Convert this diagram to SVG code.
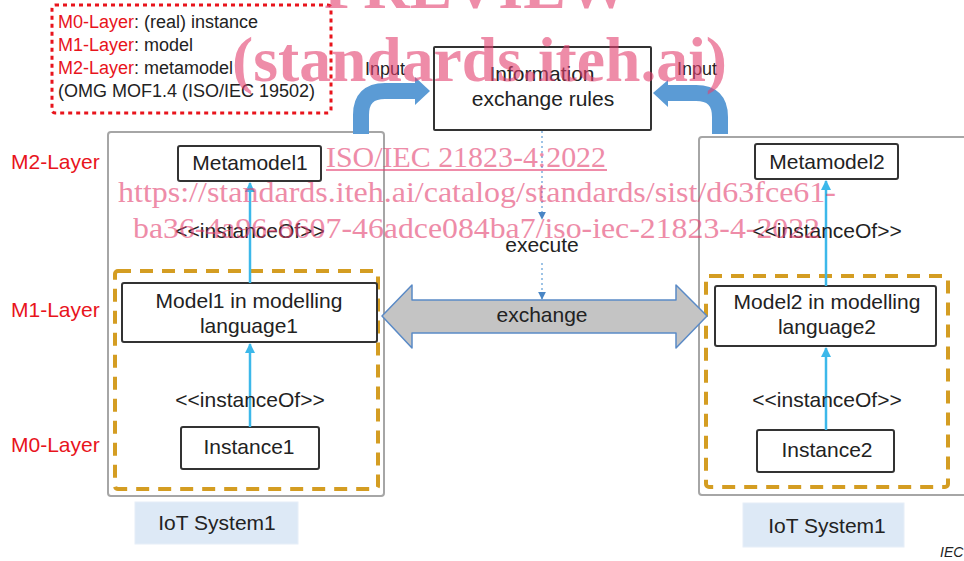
<svg xmlns="http://www.w3.org/2000/svg" width="964" height="561" viewBox="0 0 964 561">
  <style>
    text { font-family: "Liberation Sans", Arial, sans-serif; fill: #222; }
    .lbl { font-size: 21px; text-anchor: middle; }
    .inst { font-size: 21px; text-anchor: middle; }
    .legend { font-size: 18px; }
    .red { fill: #e8141c; }
    .layer { font-size: 21px; fill: #e8141c; }
    .node { fill: #fff; stroke: #333; stroke-width: 2; }
    .system { fill: #fff; stroke: #a6a6a6; stroke-width: 2; }
    .layerframe { fill: none; stroke: #d49d22; stroke-width: 4; stroke-dasharray: 13 9; }
    .tag { fill: #dde9f6; stroke: #e6eef8; stroke-width: 1; }
    .inst-of { stroke: #3cb8ea; stroke-width: 2.5; fill: none; }
    .exec { stroke: #9dc3e6; stroke-width: 2; stroke-dasharray: 2 3; fill: none; }
    .input { stroke: #5b9bd5; stroke-width: 16; fill: none; }
    .wm { font-family: "Liberation Serif", "Times New Roman", serif; fill: #e4406f; opacity: 0.6; }
  </style>
  <defs>
    <marker id="tri-cyan" viewBox="0 0 10 10" refX="9" refY="5" markerWidth="4" markerHeight="4" orient="auto">
      <path d="M0,0 L10,5 L0,10 z" fill="#3cb8ea"/>
    </marker>
    <marker id="tri-blue" viewBox="0 0 10 10" refX="9" refY="5" markerWidth="4" markerHeight="4" orient="auto">
      <path d="M0,0 L10,5 L0,10 z" fill="#4a86c5"/>
    </marker>
  </defs>

  <rect width="964" height="561" fill="#fff"/>

  <!-- legend -->
  <g id="legend">
    <rect x="52" y="5" width="279" height="108" rx="3" fill="none" stroke="#e8141c" stroke-width="3" stroke-dasharray="4 4"/>
    <text class="legend" x="58" y="28"><tspan class="red">M0-Layer</tspan>: (real) instance</text>
    <text class="legend" x="58" y="51"><tspan class="red">M1-Layer</tspan>: model</text>
    <text class="legend" x="58" y="74"><tspan class="red">M2-Layer</tspan>: metamodel</text>
    <text class="legend" x="58" y="97">(OMG MOF1.4 (ISO/IEC 19502)</text>
  </g>

  <!-- layer labels -->
  <g id="layer-labels">
    <text class="layer" x="11" y="169">M2-Layer</text>
    <text class="layer" x="11" y="317">M1-Layer</text>
    <text class="layer" x="11" y="452">M0-Layer</text>
  </g>

  <!-- IoT system 1 (left) -->
  <g id="system-left">
    <rect class="system" x="108" y="132" width="276" height="364" rx="3"/>
    <rect class="layerframe" x="115" y="271" width="263" height="218" rx="3"/>
  </g>
  <g id="metamodel1">
    <rect class="node" x="178" y="146" width="143" height="35" rx="2"/>
    <text class="lbl" x="250" y="170">Metamodel1</text>
  </g>
  <g id="model1">
    <rect class="node" x="122" y="283" width="255" height="59" rx="2"/>
    <text class="lbl" x="249" y="308">Model1 in modelling</text>
    <text class="lbl" x="249" y="333">language1</text>
  </g>
  <g id="instance1">
    <rect class="node" x="181" y="427" width="138" height="42" rx="2"/>
    <text class="lbl" x="249" y="454">Instance1</text>
  </g>
  <g id="tag-left">
    <rect class="tag" x="135" y="502" width="163" height="42"/>
    <text class="lbl" x="217" y="530">IoT System1</text>
  </g>

  <!-- IoT system (right) -->
  <g id="system-right">
    <rect class="system" x="699" y="137" width="275" height="358" rx="3"/>
    <rect class="layerframe" x="706" y="276" width="242" height="211" rx="3"/>
  </g>
  <g id="metamodel2">
    <rect class="node" x="755" y="144" width="143" height="35" rx="2"/>
    <text class="lbl" x="827" y="169">Metamodel2</text>
  </g>
  <g id="model2">
    <rect class="node" x="715" y="286" width="221" height="60" rx="2"/>
    <text class="lbl" x="827" y="309">Model2 in modelling</text>
    <text class="lbl" x="827" y="334">language2</text>
  </g>
  <g id="instance2">
    <rect class="node" x="757" y="430" width="137" height="42" rx="2"/>
    <text class="lbl" x="827" y="457">Instance2</text>
  </g>
  <g id="tag-right">
    <rect class="tag" x="743" y="503" width="161" height="44"/>
    <text class="lbl" x="827" y="533">IoT System1</text>
  </g>

  <!-- exchange rules -->
  <g id="rules">
    <rect class="node" x="434" y="47" width="217" height="83" rx="1"/>
    <text class="lbl" x="542" y="81">Information</text>
    <text class="lbl" x="543" y="106">exchange rules</text>
  </g>

  <!-- connectors -->
  <g id="connectors">
    <!-- instanceOf links -->
    <line class="inst-of" x1="250" y1="283" x2="250" y2="183" marker-end="url(#tri-cyan)"/>
    <line class="inst-of" x1="250" y1="427" x2="250" y2="344" marker-end="url(#tri-cyan)"/>
    <line class="inst-of" x1="826" y1="286" x2="826" y2="181" marker-end="url(#tri-cyan)"/>
    <line class="inst-of" x1="826" y1="430" x2="826" y2="348" marker-end="url(#tri-cyan)"/>
    <text class="inst" x="250" y="238">&lt;&lt;instanceOf&gt;&gt;</text>
    <text class="inst" x="250" y="407">&lt;&lt;instanceOf&gt;&gt;</text>
    <text class="inst" x="827" y="238">&lt;&lt;instanceOf&gt;&gt;</text>
    <text class="inst" x="827" y="407">&lt;&lt;instanceOf&gt;&gt;</text>

    <!-- input arrows -->
    <path class="input" d="M361,134 V115 Q361,91 385,91 H418"/>
    <polygon points="415,77 430,91 415,105" fill="#5b9bd5"/>
    <path class="input" d="M720,134 V117 Q720,93 696,93 H665"/>
    <polygon points="668,80 653,93 668,107" fill="#5b9bd5"/>
    <text class="legend" x="385" y="75" text-anchor="middle">Input</text>
    <text class="legend" x="697" y="75" text-anchor="middle">Input</text>

    <!-- execute -->
    <line class="exec" x1="542" y1="131" x2="542" y2="219" marker-end="url(#tri-blue)"/>
    <line class="exec" x1="542" y1="263" x2="542" y2="299" marker-end="url(#tri-blue)"/>
    <text class="lbl" x="542" y="252">execute</text>

    <!-- exchange -->
    <polygon points="382,316 412,285 412,300 676,300 676,285 707,316 676,348 676,333 412,333 412,348" fill="#c4c4c4" stroke="#5a8ac6" stroke-width="1.5" stroke-linejoin="round"/>
    <text class="lbl" x="542" y="322">exchange</text>
  </g>

  <text x="940" y="557" font-size="14" font-style="italic">IEC</text>

  <!-- publisher overlay -->
  <g id="overlay">
    <text class="wm" x="477" y="8" font-size="64" font-weight="bold" text-anchor="middle">PREVIEW</text>
    <text class="wm" x="232" y="81" font-size="64" font-weight="bold" textLength="495" lengthAdjust="spacingAndGlyphs">(standards.iteh.ai)</text>
    <text class="wm" x="326" y="167" font-size="30" textLength="280" lengthAdjust="spacingAndGlyphs">ISO/IEC 21823-4:2022</text>
    <rect x="326" y="169" width="281" height="2" fill="#e4406f" opacity="0.6"/>
    <text class="wm" x="118" y="202" font-size="30" textLength="718" lengthAdjust="spacingAndGlyphs">https://standards.iteh.ai/catalog/standards/sist/d63fce61-</text>
    <text class="wm" x="133" y="238" font-size="30" textLength="687" lengthAdjust="spacingAndGlyphs">ba36-4a96-8607-46adce084ba7/iso-iec-21823-4-2022</text>
  </g>
</svg>
